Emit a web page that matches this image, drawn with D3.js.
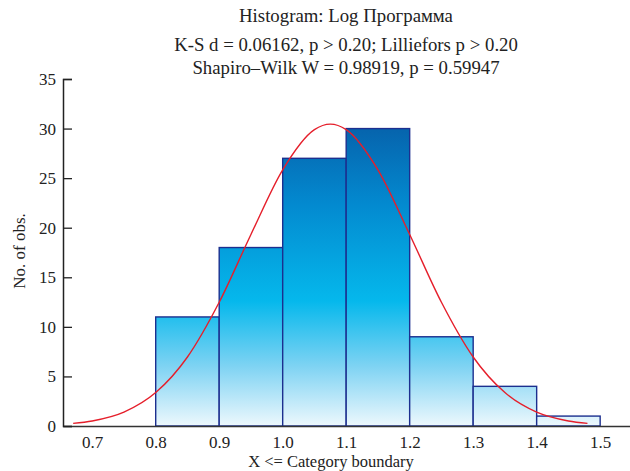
<!DOCTYPE html>
<html><head><meta charset="utf-8">
<script src="https://cdn.jsdelivr.net/npm/d3@7"></script>
<style>body{margin:0;background:#fff}svg{display:block}text{font-family:"Liberation Serif","Times New Roman",serif;fill:#222}</style>
</head><body><svg id="c" width="630" height="471"></svg>
<script>
const binStarts = [0.8, 0.9, 1.0, 1.1, 1.2, 1.3, 1.4];
const binWidth = 0.1;
const counts = [11, 18, 27, 30, 9, 4, 1];
const xTicks = [0.7, 0.8, 0.9, 1.0, 1.1, 1.2, 1.3, 1.4, 1.5];
const yTicks = [0, 5, 10, 15, 20, 25, 30, 35];
const curveX = [0.67, 0.70, 0.75, 0.80, 0.85, 0.90, 0.95, 1.00, 1.05, 1.075, 1.10, 1.15, 1.20, 1.25, 1.30, 1.35, 1.40, 1.45, 1.48];
const curveY = [0.26, 0.51, 1.40, 3.37, 6.96, 12.48, 19.32, 25.84, 29.90, 30.45, 29.90, 25.84, 19.32, 12.48, 6.96, 3.37, 1.40, 0.51, 0.26];
const titleLines = ["Histogram: Log Программа", "K-S d = 0.06162, p > 0.20; Lilliefors p > 0.20", "Shapiro\u2013Wilk W = 0.98919, p = 0.59947"];
const xTitle = "X <= Category boundary";
const yTitle = "No. of obs.";

const svg = d3.select("#c");
const x = d3.scaleLinear().domain([0.654, 1.547]).range([63, 630]);
const y = d3.scaleLinear().domain([0, 35]).range([426, 79]);

const defs = svg.append("defs");
const g = defs.append("linearGradient").attr("id","bg").attr("gradientUnits","userSpaceOnUse")
  .attr("x1",0).attr("x2",0).attr("y1",y(30)).attr("y2",y(0));
g.append("stop").attr("offset",0).attr("stop-color","#0664ad");
g.append("stop").attr("offset",0.25).attr("stop-color","#0389cf");
g.append("stop").attr("offset",0.58).attr("stop-color","#05b8ec");
g.append("stop").attr("offset",0.8).attr("stop-color","#7fd3f3");
g.append("stop").attr("offset",1).attr("stop-color","#edf8fd");

svg.selectAll("rect.bar").data(binStarts).join("rect").attr("class","bar")
  .attr("x", d => x(d)).attr("width", d => x(d+binWidth)-x(d))
  .attr("y", (d,i) => y(counts[i])).attr("height", (d,i) => y(0)-y(counts[i]))
  .attr("fill","url(#bg)").attr("stroke","#1c2f8f").attr("stroke-width",1.4);

const line = d3.line().x((d,i)=>x(curveX[i])).y(d=>y(d)).curve(d3.curveMonotoneX);
svg.append("path").attr("d", line(curveY)).attr("fill","none").attr("stroke","#e51f2b").attr("stroke-width",1.4);

// x axis
const xa = svg.append("g").attr("transform",`translate(0,${y(0)})`)
  .call(d3.axisBottom(x).tickValues(xTicks).tickFormat(d3.format(".1f")).tickSize(0).tickPadding(10));
xa.select(".domain").attr("stroke","#333").attr("stroke-width",1.5);
xa.selectAll("text").attr("font-size",17).attr("fill","#222").attr("font-family","Liberation Serif");

// y axis
const ya = svg.append("g").attr("transform",`translate(63,0)`)
  .call(d3.axisRight(y).tickValues(yTicks).tickSize(9).tickPadding(-22));
ya.select(".domain").attr("stroke","#222").attr("stroke-width",1.5);
ya.selectAll("line").attr("stroke","#222").attr("stroke-width",1.3);
ya.selectAll("text").attr("font-size",17).attr("fill","#222").attr("text-anchor","end").attr("x",-7).attr("font-family","Liberation Serif");

const titleY = [22, 51, 74];
svg.selectAll("text.title").data(titleLines).join("text").attr("class","title")
  .attr("x",346).attr("y",(d,i)=>titleY[i]).attr("text-anchor","middle").attr("font-size",18.8).text(d=>d);

svg.append("text").attr("x",331).attr("y",467).attr("text-anchor","middle").attr("font-size",16.5).text(xTitle);
svg.append("text").attr("transform","translate(25,251) rotate(-90)").attr("text-anchor","middle").attr("font-size",17).text(yTitle);
</script></body></html>
